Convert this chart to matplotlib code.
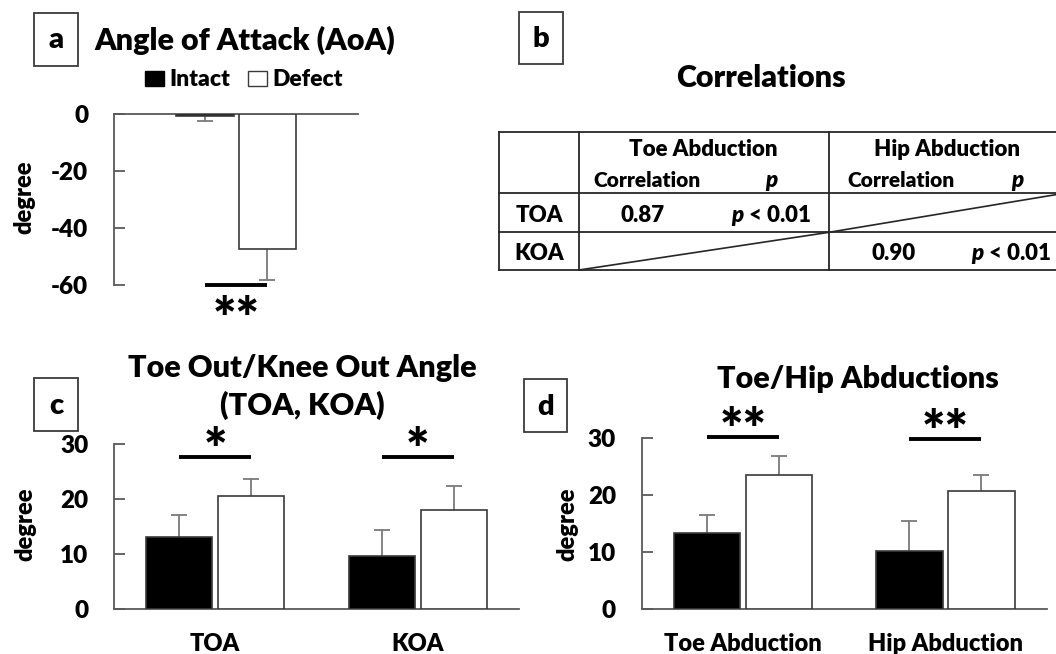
import numpy as np
import matplotlib
matplotlib.use("Agg")
import matplotlib.pyplot as plt
from matplotlib.patches import Patch, Rectangle

plt.rcParams['font.family'] = ['Lato', 'DejaVu Sans']
plt.rcParams['font.weight'] = 'heavy'
plt.rcParams['axes.unicode_minus'] = False
plt.rcParams['mathtext.fontset'] = 'custom'
plt.rcParams['mathtext.it'] = 'Lato:italic:heavy'
plt.rcParams['mathtext.rm'] = 'Lato:heavy'

# ---- data ----
groups = ['Intact', 'Defect']
aoa_mean = [-0.7, -47.2]
aoa_sd = [1.8, 11.0]

toa_cats = ['TOA', 'KOA']
toa_intact = [13.1, 9.7]
toa_intact_sd = [4.1, 4.7]
toa_defect = [20.6, 18.1]
toa_defect_sd = [3.0, 4.3]
toa_sig = ['*', '*']
toa_sig_y = [27.7, 27.7]

abd_cats = ['Toe Abduction', 'Hip Abduction']
abd_intact = [13.4, 10.2]
abd_intact_sd = [3.1, 5.3]
abd_defect = [23.5, 20.7]
abd_defect_sd = [3.4, 2.85]
abd_sig = ['**', '**']
abd_sig_y = [30.2, 29.8]

corr_rows = ['TOA', 'KOA']
corr_cols = ['Toe Abduction', 'Hip Abduction']
corr_r = [['0.87', ''], ['', '0.90']]
corr_p = [['< 0.01', ''], ['', '< 0.01']]

W, H = 1056, 654
fig = plt.figure(figsize=(W / 100, H / 100), dpi=100)


def rect(x0, y0, x1, y1):
    # pixel box, origin top-left -> figure fraction
    return [x0 / W, 1 - y1 / H, (x1 - x0) / W, (y1 - y0) / H]


# overlay in pixel coords for titles, boxes, table
ov = fig.add_axes([0, 0, 1, 1])
ov.set_xlim(0, W)
ov.set_ylim(H, 0)
ov.axis('off')

GRAY = '#595959'
EDGE = '#3a3a3a'


def style_axes(ax):
    for s in ax.spines.values():
        s.set_color(GRAY)
        s.set_linewidth(1.3)
    ax.spines['right'].set_visible(False)
    ax.tick_params(axis='y', direction='in', length=8, width=1.3, color=GRAY,
                   labelsize=17.5, pad=18.5)


def draw_bars(ax, pos, means, sds, color, up, bw):
    ax.bar(pos, means, width=bw, color=color, edgecolor=EDGE, linewidth=1.2, zorder=3)
    zero = [0] * len(sds)
    yerr = [zero, sds] if up else [sds, zero]
    eb = ax.errorbar(pos, means, yerr=yerr, fmt='none', ecolor='#7a7a7a',
                     elinewidth=1.3, capsize=6, capthick=1.3, zorder=2)
    for cl in eb[1]:
        if np.allclose(cl.get_ydata(), means):
            cl.set_visible(False)


def sig_mark(ax, x0, x1, y, label, dy):
    ax.plot([x0, x1], [y, y], color='black', lw=2.8, solid_capstyle='butt',
            clip_on=False, zorder=4)
    ax.annotate(label, xy=((x0 + x1) / 2, y), xytext=(0, dy), textcoords='offset points',
                ha='center', va='baseline', fontsize=40, annotation_clip=False)


# ---- panel a ----
ax_a = fig.add_axes(rect(114, 114.3, 358.3, 285))
style_axes(ax_a)
ax_a.spines['bottom'].set_visible(False)
bw_a, off_a = 0.405, 0.219
xa = [-off_a, off_a]
draw_bars(ax_a, xa[:1], aoa_mean[:1], aoa_sd[:1], 'black', False, bw_a)
draw_bars(ax_a, xa[1:], aoa_mean[1:], aoa_sd[1:], 'white', False, bw_a)
ax_a.set_xlim(-0.855, 0.855)
ax_a.set_ylim(-60, 0)
ax_a.set_yticks([0, -20, -40, -60])
ax_a.set_xticks([])
sig_mark(ax_a, xa[0], xa[1], -60, '**', -38)

handles = [Patch(facecolor='black', edgecolor='black', linewidth=1),
           Patch(facecolor='white', edgecolor=EDGE, linewidth=1)]
fig.legend(handles, groups, loc='center', bbox_to_anchor=(244 / W, 1 - 80 / H),
           ncol=2, frameon=False, fontsize=16.5, handlelength=0.83, handleheight=0.65,
           handletextpad=0.25, columnspacing=0.75, borderpad=0)


# ---- panels c and d ----
def grouped_panel(box, cats, intact, intact_sd, defect, defect_sd, sig, sig_y):
    ax = fig.add_axes(rect(*box))
    style_axes(ax)
    ax.spines['top'].set_visible(False)
    x = np.arange(len(cats))
    bw, off = 0.327, 0.178
    draw_bars(ax, x - off, intact, intact_sd, 'black', True, bw)
    draw_bars(ax, x + off, defect, defect_sd, 'white', True, bw)
    for i in range(len(cats)):
        sig_mark(ax, x[i] - off, x[i] + off, sig_y[i], sig[i], -8.5)
    ax.set_xlim(-0.5, 1.5)
    ax.set_ylim(0, 30)
    ax.set_yticks([0, 10, 20, 30])
    ax.set_xticks(x, cats)
    ax.tick_params(axis='x', length=0, labelsize=17, pad=17)
    return ax


ax_c = grouped_panel((114, 444.3, 519, 609), toa_cats, toa_intact, toa_intact_sd,
                     toa_defect, toa_defect_sd, toa_sig, toa_sig_y)
ax_d = grouped_panel((641.7, 438.3, 1046.7, 609), abd_cats, abd_intact, abd_intact_sd,
                     abd_defect, abd_defect_sd, abd_sig, abd_sig_y)

# ---- titles, y labels, panel letters ----
ov.text(245, 50, 'Angle of Attack (AoA)', fontsize=22, ha='center', va='baseline')
ov.text(761, 86.7, 'Correlations', fontsize=22, ha='center', va='baseline')
ov.text(302, 376.7, 'Toe Out/Knee Out Angle', fontsize=22, ha='center', va='baseline')
ov.text(302, 415, '(TOA, KOA)', fontsize=22, ha='center', va='baseline')
ov.text(857.5, 388, 'Toe/Hip Abductions', fontsize=22, ha='center', va='baseline')

for x, y in [(24, 197), (25, 524), (567, 524)]:
    ov.text(x, y, 'degree', fontsize=17, rotation=90, ha='center', va='center')

for letter, (x0, y0, x1, y1) in zip('abcd', [(34, 13, 78, 66), (519.3, 11.7, 562.7, 64.3),
                                             (34, 378, 78, 431), (524, 379, 567.3, 432.3)]):
    ov.add_patch(Rectangle((x0, y0), x1 - x0, y1 - y0, fill=False, edgecolor=EDGE, lw=1.3))
    ov.text((x0 + x1) / 2, (y0 + y1) / 2 + 1, letter, fontsize=21, ha='center', va='center')

# ---- correlation table (panel b) ----
tx = [499, 579, 829, 1064]
ty = [131.7, 193.3, 232.3, 270]
head_x = [703, 946.7]
corr_x = [646.5, 901]
r_x = [643, 894]
p_head_x = [772, 1018]
p_x = [771, 1011]
lc = dict(color='#262626', lw=1.3)
for y in ty:
    ov.plot([tx[0], tx[-1]], [y, y], **lc)
for x in tx:
    ov.plot([x, x], [ty[0], ty[-1]], **lc)

for j, col in enumerate(corr_cols):
    ov.text(head_x[j], 156, col, fontsize=16, ha='center', va='baseline')
    ov.text(corr_x[j], 186.7, 'Correlation', fontsize=15, ha='center', va='baseline')
    ov.text(p_head_x[j], 186.7, '$p$', fontsize=16, ha='center', va='baseline')

for i, row in enumerate(corr_rows):
    yb = [221.7, 260][i]
    ov.text((tx[0] + tx[1]) / 2, yb, row, fontsize=16, ha='center', va='baseline')
    for j in range(len(corr_cols)):
        cl, cr = tx[j + 1], tx[j + 2]
        if corr_r[i][j]:
            ov.text(r_x[j], yb, corr_r[i][j], fontsize=16, ha='center', va='baseline')
            ov.text(p_x[j], yb, '$p$ ' + corr_p[i][j], fontsize=16, ha='center', va='baseline')
        else:
            ov.plot([cl, cr], [ty[i + 2], ty[i + 1]], color='#262626', lw=1.2)

fig.savefig('out.png', dpi=100)
